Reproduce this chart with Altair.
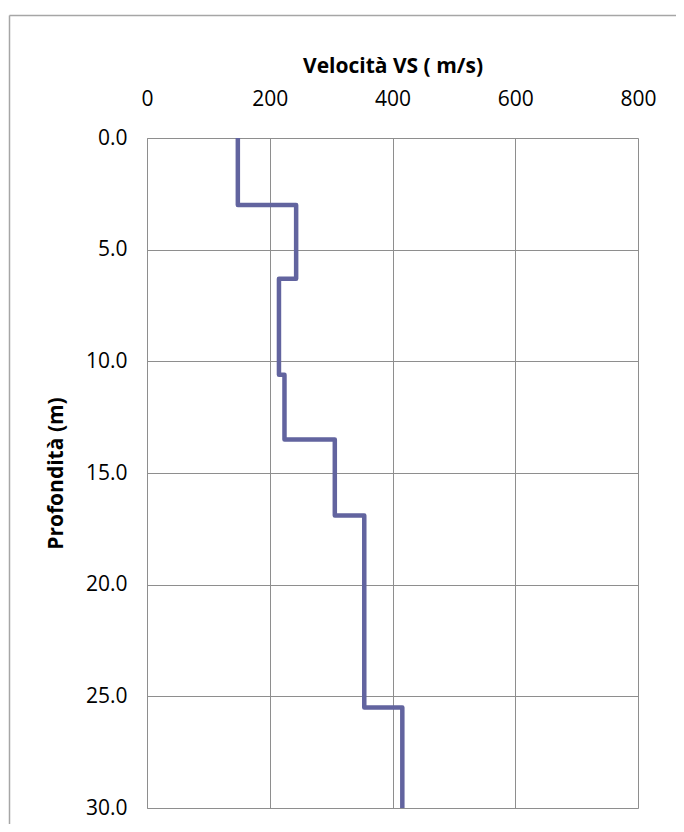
import altair as alt
import pandas as pd

# Layer tops / bottoms (m) and shear-wave velocity (m/s)
layer_top = [0.0, 3.0, 6.3, 10.6, 13.5, 16.9, 25.5]
layer_bottom = [3.0, 6.3, 10.6, 13.5, 16.9, 25.5, 30.0]
velocity = [148, 243, 215, 224, 306, 354, 416]

x_ticks = [0, 200, 400, 600, 800]
y_ticks = [0, 5, 10, 15, 20, 25, 30]

rows = []
i = 0
for t, b, v in zip(layer_top, layer_bottom, velocity):
    rows.append({"vs": v, "depth": t, "ord": i}); i += 1
    rows.append({"vs": v, "depth": b, "ord": i}); i += 1
df = pd.DataFrame(rows)

FONT = "Open Sans"
LINE = "#62649F"
GRID = "#8E8E8E"

line = alt.Chart(df).mark_line(color=LINE, strokeWidth=4.5, strokeJoin="round", strokeCap="butt").encode(
    x=alt.X("vs:Q",
            scale=alt.Scale(domain=[0, 800], nice=False),
            axis=alt.Axis(orient="top", values=x_ticks, format="d", title="Velocità VS ( m/s)",
                          labelFont=FONT, labelFontSize=21, labelColor="#000000",
                          titleFont=FONT, titleFontSize=21, titleFontWeight="bold", titleColor="#000000",
                          labelPadding=29, titlePadding=12,
                          ticks=False, domain=False, grid=True, gridColor=GRID, gridWidth=1,
                          labelFlush=False)),
    y=alt.Y("depth:Q",
            scale=alt.Scale(domain=[0, 30], reverse=True, nice=False),
            axis=alt.Axis(values=y_ticks, format=".1f", title="Profondità (m)",
                          labelFont=FONT, labelFontSize=21, labelColor="#000000",
                          titleFont=FONT, titleFontSize=21, titleFontWeight="bold", titleColor="#000000",
                          labelPadding=20, titlePadding=19,
                          ticks=False, domain=True, domainColor=GRID, grid=True, gridColor=GRID, gridWidth=1,
                          labelFlush=False)),
    order="ord:Q",
)

one = pd.DataFrame({"a": [0]})
frame_left = alt.Chart(one).mark_rule(color="#A6A6A6", strokeWidth=1.5).encode(
    x=alt.value(-137.5), y=alt.value(-122.5), y2=alt.value(760))
frame_top = alt.Chart(one).mark_rule(color="#A6A6A6", strokeWidth=1.5).encode(
    x=alt.value(-137.5), x2=alt.value(560), y=alt.value(-122.5))

chart = alt.layer(line, frame_left, frame_top).properties(
    width=491, height=670,
    autosize=alt.AutoSizeParams(type="none"),
    padding={"left": 139, "top": 130, "right": 38, "bottom": 16},
).configure_view(stroke=GRID, strokeWidth=1).configure(background="#FFFFFF")

chart.save("out.html", embed_options={"renderer": "svg", "actions": False})
